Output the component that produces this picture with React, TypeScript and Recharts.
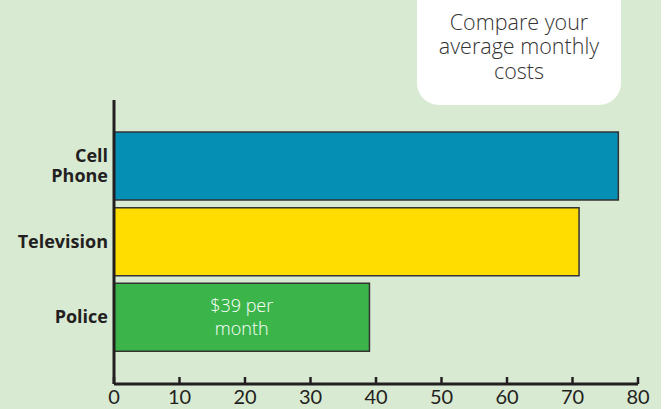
import React from 'react';
import { BarChart, Bar, XAxis, YAxis, Cell, LabelList } from 'recharts';

const categories = ['Cell Phone', 'Television', 'Police'];
const costs = [77, 71, 39];
const barColors = ['#058fb5', '#ffdd00', '#3bb54a'];
const xTicks = [0, 10, 20, 30, 40, 50, 60, 70, 80];
const barNotes = ['', '', '$39 per|month'];

const data = categories.map((name, i) => ({ name, cost: costs[i], note: barNotes[i] }));

const CategoryTick = ({ x, y, payload }: any) => {
  const lines = payload.value === 'Cell Phone' ? ['Cell', 'Phone'] : [payload.value];
  const lh = 20;
  const start = -((lines.length - 1) * lh) / 2;
  return (
    <text
      textAnchor="end"
      fill="#231f20"
      fontFamily="'Open Sans', sans-serif"
      fontWeight={700}
      fontSize={18}
    >
      {lines.map((l, i) => (
        <tspan key={l} x={x + 2} y={y + start + i * lh} dy="0.35em">
          {l}
        </tspan>
      ))}
    </text>
  );
};

const ValueTick = ({ x, y, payload }: any) => {
  const axisY = y - 8;
  return (
    <g>
      <line x1={x} x2={x} y1={axisY - 7} y2={axisY} stroke="#231f20" strokeWidth={2.5} />
      <text
        x={x}
        y={axisY + 20}
        textAnchor="middle"
        fill="#231f20"
        fontFamily="Lato, 'Open Sans', sans-serif"
        fontSize={20}
      >
        {payload.value}
      </text>
    </g>
  );
};

const NoteLabel = ({ x, y, width, height, value }: any) => {
  if (!value) return null;
  const lines = String(value).split('|');
  const cx = x + width / 2;
  const cy = y + height / 2;
  return (
    <text textAnchor="middle" fill="#ffffff" fontFamily="'Open Sans', sans-serif" fontWeight={300} fontSize={18}>
      {lines.map((l, i) => (
        <tspan key={l} x={cx} y={cy + (i - (lines.length - 1) / 2) * 23} dy="0.35em">
          {l}
        </tspan>
      ))}
    </text>
  );
};

export default function App() {
  return (
    <div
      style={{
        position: 'absolute',
        left: 0,
        top: 0,
        width: 665,
        height: 409,
        background: '#ffffff',
        overflow: 'hidden',
      }}
    >
      <div style={{ position: 'absolute', left: 0, top: 0, width: 661, height: 409, background: '#d9ead3' }} />
      <div
        style={{
          position: 'absolute',
          left: 417,
          top: -20,
          width: 204,
          height: 125,
          background: '#ffffff',
          borderRadius: 22,
          display: 'flex',
          alignItems: 'flex-end',
          justifyContent: 'center',
          paddingBottom: 22,
          boxSizing: 'border-box',
          textAlign: 'center',
          fontFamily: "'Open Sans', sans-serif",
          fontWeight: 300,
          fontSize: 21.5,
          lineHeight: '24.5px',
          color: '#333333',
        }}
      >
        Compare your
        <br />
        average monthly
        <br />
        costs
      </div>
      <div style={{ position: 'absolute', left: 0, top: 0 }}>
        <BarChart
          width={661}
          height={409}
          data={data}
          layout="vertical"
          margin={{ top: 100, right: 23, left: 0, bottom: 0 }}
        >
          <XAxis
            type="number"
            domain={[0, 80]}
            ticks={xTicks}
            interval={0}
            height={25}
            tickLine={false}
            axisLine={{ stroke: '#231f20', strokeWidth: 3 }}
            tick={<ValueTick />}
          />
          <YAxis
            type="category"
            dataKey="name"
            width={114}
            padding={{ top: 28, bottom: 29 }}
            tickLine={false}
            axisLine={{ stroke: '#231f20', strokeWidth: 3 }}
            tick={<CategoryTick />}
          />
          <Bar dataKey="cost" barSize={68} stroke="#333333" strokeWidth={1.5} isAnimationActive={false}>
            {data.map((d, i) => (
              <Cell key={d.name} fill={barColors[i]} />
            ))}
            <LabelList dataKey="note" content={<NoteLabel />} />
          </Bar>
        </BarChart>
      </div>
    </div>
  );
}
